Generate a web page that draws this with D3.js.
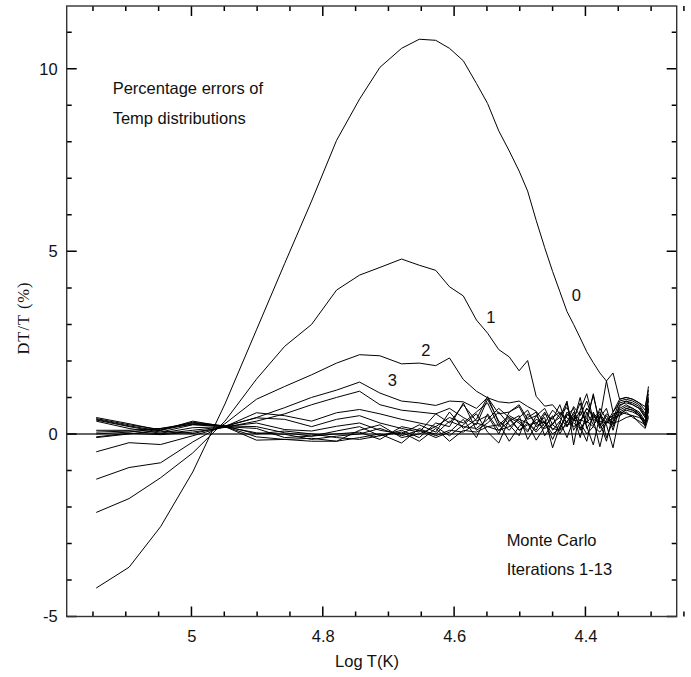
<!DOCTYPE html>
<html>
<head>
<meta charset="utf-8">
<script src="https://cdn.jsdelivr.net/npm/d3@7"></script>
<style>
    body { margin: 0; background: #fff; }
    text { font-family: "Liberation Sans", Arial, Helvetica, sans-serif; }
</style>
</head>
<body>
<div id="chart"></div>
<script>
// log T grid (bins get finer toward low temperature)
const logT = [5.145, 5.095, 5.047, 4.998, 4.949, 4.901, 4.858, 4.817, 4.779, 4.744,
    4.713, 4.680, 4.653, 4.628, 4.607, 4.586, 4.566, 4.549, 4.532, 4.516,
    4.501, 4.488, 4.475, 4.462, 4.450, 4.439, 4.428, 4.418, 4.408, 4.398,
    4.388, 4.378, 4.368, 4.358, 4.348, 4.338, 4.328, 4.318, 4.309, 4.304];

// DT/T (%) for iterations 0..13
const iter0 = [-4.22, -3.65, -2.54, -1.04, 0.82, 2.85, 4.67, 6.38, 8.04, 9.17,
    10.04, 10.56, 10.81, 10.78, 10.56, 10.22, 9.6, 9.05, 8.3, 7.75,
    7.2, 6.65, 5.85, 5.1, 4.45, 3.9, 3.35, 3.0, 2.63, 2.25,
    1.95, 1.67, 1.45, 1.67, 0.95, 1.0, 0.95, 0.85, 0.75, 1.2];
const iter1 = [-2.15, -1.77, -1.2, -0.52, 0.35, 1.5, 2.4, 3.0, 3.94, 4.35,
    4.56, 4.79, 4.62, 4.48, 4.03, 3.78, 3.12, 2.76, 2.31, 2.11,
    1.73, 2.01, 1.03, 0.76, 0.8, 0.55, 0.72, 0.35, 0.62, 0.3,
    0.55, 0.4, 1.45, 0.6, 0.95, 1.0, 0.95, 0.85, 0.65, 1.3];
const iter2 = [-1.24, -0.92, -0.79, -0.22, 0.28, 0.95, 1.3, 1.62, 1.94, 2.17,
    2.14, 1.92, 1.94, 1.87, 2.08, 1.49, 1.17, 0.99, 0.88, 0.85,
    0.9, 0.75, 0.62, 0.3, 0.65, 0.45, 0.2, 0.6, 0.35, 0.7,
    0.5, 0.25, 0.55, 0.4, 0.9, 0.95, 0.9, 0.8, 0.55, 1.1];
const iter3 = [-0.49, -0.24, -0.29, -0.05, 0.2, 0.45, 0.72, 1.0, 1.2, 1.42,
    1.12, 0.9, 0.85, 0.78, 0.9, 0.88, 0.7, 1.0, 0.55, 0.6,
    0.8, 0.4, 0.5, 0.2, 0.45, 0.6, 0.3, 0.75, 0.5, 0.9,
    0.35, 0.55, 0.3, 0.6, 0.85, 0.9, 0.85, 0.75, 0.5, 1.0];
const iter4 = [-0.08, 0.02, -0.02, 0.05, 0.18, 0.35, 0.55, 0.8, 1.0, 1.17,
    0.8, 0.65, 0.6, 0.55, 0.7, 0.45, 0.25, 0.95, 0.35, 0.1,
    0.45, 0.65, 0.2, 0.35, -0.15, 0.3, 0.85, 0.1, 0.4, 0.3,
    1.1, 0.2, 0.5, 0.25, 0.8, 0.85, 0.8, 0.7, 0.45, 0.9];
const iter5 = [0.05, 0.08, 0.0, 0.1, 0.2, 0.58, 0.5, 0.35, 0.58, 0.67,
    0.55, 0.4, 0.3, 0.2, 0.45, 0.3, 0.6, 0.85, 0.2, 0.45,
    0.3, 0.05, 0.5, 0.7, 0.25, 0.1, 0.55, 0.35, 1.0, 0.15,
    0.45, 0.6, -0.1, 0.35, 0.75, 0.9, 0.8, 0.7, 0.45, 0.95];
const iter6 = [0.42, 0.25, 0.12, 0.32, 0.22, 0.44, 0.4, 0.2, 0.4, 0.5,
    0.3, 0.15, 0.05, 0.55, 0.3, 0.8, 0.35, 0.5, 0.0, 0.6,
    0.75, 0.3, 0.1, 0.55, 0.4, 0.8, 0.2, 0.5, -0.1, 0.6,
    0.25, 0.45, 0.7, 0.1, 0.7, 0.8, 0.7, 0.6, 0.35, 0.8];
const iter7 = [0.38, 0.2, 0.05, 0.25, 0.2, 0.3, 0.12, 0.08, 0.21, 0.3,
    0.1, 0.0, 0.25, 0.05, 0.6, 0.15, 0.4, 1.02, 0.3, -0.2,
    0.2, 0.45, 0.6, -0.05, 0.3, 0.45, 0.9, -0.3, 0.65, 1.1,
    0.4, -0.35, 0.4, 0.5, 0.65, 0.75, 0.7, 0.55, 0.3, 0.75];
const iter8 = [0.45, 0.28, 0.1, 0.28, 0.22, 0.2, 0.03, -0.06, 0.08, 0.2,
    -0.05, 0.1, -0.1, 0.3, 0.2, 0.85, 0.1, 0.3, 0.6, 0.25,
    -0.05, 0.55, 0.3, 0.45, -0.38, 0.2, 0.5, 0.7, 0.1, 0.45,
    1.05, 0.3, -0.2, 0.55, 0.6, 0.7, 0.65, 0.5, 0.25, 0.7];
const iter9 = [0.35, 0.15, 0.02, 0.17, 0.2, 0.03, -0.01, -0.15, -0.06, 0.0,
    0.15, -0.05, 0.1, -0.1, 0.05, 0.4, -0.1, 0.55, 0.1, 0.35,
    0.5, -0.15, 0.25, 0.6, 0.1, 0.35, -0.1, 0.4, 0.85, 0.2,
    -0.3, 0.5, 0.25, -0.38, 0.5, 0.7, 0.65, 0.55, 0.2, 0.7];
const iter10 = [0.4, 0.22, 0.08, 0.01, 0.2, -0.08, -0.15, -0.2, -0.2, 0.1,
    0.25, -0.1, 0.0, 0.2, -0.05, 0.25, 0.55, 0.05, -0.25, 0.4,
    0.1, 0.3, -0.17, 0.2, 0.5, 0.0, 0.35, 0.55, 0.2, -0.2,
    0.6, 0.15, 0.35, 0.2, 0.6, 0.55, 0.5, 0.45, 0.3, 0.6];
const iter11 = [0.0, 0.05, 0.15, 0.3, 0.2, 0.15, -0.1, -0.06, 0.0, 0.05,
    -0.15, 0.2, 0.1, 0.0, 0.35, 0.2, 0.15, 0.4, 0.7, 0.45,
    0.1, 0.25, 0.3, 0.15, 0.25, 0.55, 0.45, 0.2, 0.3, 0.7,
    0.5, 0.35, 0.3, 0.45, 0.5, 0.6, 0.45, 0.35, 0.25, 0.5];
const iter12 = [-0.1, 0.0, 0.1, 0.35, 0.2, -0.17, -0.15, -0.12, -0.2, -0.1,
    0.0, -0.25, 0.15, -0.05, 0.1, 0.05, 0.3, 0.2, 0.25, 0.5,
    0.35, 0.1, 0.4, 0.3, 0.0, 0.15, 0.6, 0.4, 0.3, 0.0,
    0.2, 0.7, 0.4, 0.3, 0.35, 0.45, 0.5, 0.3, 0.15, 0.45];
const iter13 = [0.1, 0.1, 0.15, 0.26, 0.22, 0.0, 0.08, 0.0, -0.1, -0.15,
    -0.05, 0.05, -0.2, 0.15, -0.2, 0.1, 0.05, 0.2, 0.1, 0.2,
    0.4, 0.3, 0.05, 0.3, 0.15, 0.1, 0.25, 0.3, 0.15, 0.35,
    0.2, 0.05, 0.3, 0.35, 0.55, 0.65, 0.6, 0.5, 0.35, 0.65];

const iterations = [iter0, iter1, iter2, iter3, iter4, iter5, iter6,
    iter7, iter8, iter9, iter10, iter11, iter12, iter13];

// axis ticks
const xMajor = [5.0, 4.8, 4.6, 4.4];
const xMinor = [5.15, 5.1, 5.05, 4.95, 4.9, 4.85, 4.75, 4.7, 4.65,
    4.55, 4.5, 4.45, 4.35, 4.3, 4.25];
const yMajor = [-5, 0, 5, 10];
const yMinor = [-4, -3, -2, -1, 1, 2, 3, 4, 6, 7, 8, 9, 11];

// curve labels and notes [logT, DT/T, text]
const curveLabels = [[4.421, 3.63, "0"], [4.551, 3.03, "1"], [4.650, 2.14, "2"], [4.701, 1.30, "3"]];
const notes = [[5.120, 9.32, "Percentage errors of"], [5.120, 8.50, "Temp distributions"],
    [4.520, -3.06, "Monte Carlo"], [4.520, -3.86, "Iterations 1-13"]];

const width = 691;
const height = 677;
const plotLeft = 66.7, plotRight = 676.7, plotTop = 6, plotBottom = 616.5;
const fontSize = 16.5;
const majorLen = 10, minorLen = 5;

const svg = d3.select("#chart")
    .append("svg")
    .attr("width", width)
    .attr("height", height);

const x = d3.scaleLinear().domain([5.19, 4.261]).range([plotLeft, plotRight]);
const y = d3.scaleLinear().domain([-5, 11.72]).range([plotBottom, plotTop]);

// zero line
svg.append("line")
    .attr("x1", plotLeft).attr("x2", plotRight)
    .attr("y1", y(0)).attr("y2", y(0))
    .attr("stroke", "#666")
    .attr("stroke-width", 2);

// curves
const curve = d3.line()
    .x((d, i) => x(logT[i]))
    .y(d => y(d));

svg.append("g")
    .selectAll("path")
    .data(iterations)
    .enter()
    .append("path")
    .attr("d", d => curve(d))
    .attr("fill", "none")
    .attr("stroke", "#000")
    .attr("stroke-width", 1)
    .attr("stroke-linejoin", "miter");

// inward ticks on all four sides, one path
const tickPath = d3.path();
xMajor.concat(xMinor).forEach(v => {
    const len = xMajor.includes(v) ? majorLen : minorLen;
    tickPath.moveTo(x(v), plotBottom); tickPath.lineTo(x(v), plotBottom - len);
    tickPath.moveTo(x(v), plotTop); tickPath.lineTo(x(v), plotTop + len);
});
yMajor.concat(yMinor).forEach(v => {
    const len = yMajor.includes(v) ? majorLen : minorLen;
    tickPath.moveTo(plotLeft, y(v)); tickPath.lineTo(plotLeft + len, y(v));
    tickPath.moveTo(plotRight, y(v)); tickPath.lineTo(plotRight - len, y(v));
});
svg.append("path")
    .attr("d", tickPath.toString())
    .attr("fill", "none")
    .attr("stroke", "#000")
    .attr("stroke-width", 1.5);

// tick labels
const xAxis = svg.append("g")
    .attr("transform", `translate(0,${plotBottom})`)
    .call(d3.axisBottom(x).tickValues(xMajor).tickSize(0).tickPadding(14).tickFormat(d => String(d)));
xAxis.select(".domain").remove();

const yAxis = svg.append("g")
    .attr("transform", `translate(${plotLeft},0)`)
    .call(d3.axisLeft(y).tickValues(yMajor).tickSize(0).tickPadding(9).tickFormat(d => String(d)));
yAxis.select(".domain").remove();

svg.selectAll(".tick text")
    .attr("font-size", fontSize)
    .attr("font-family", "'Liberation Sans', Arial, sans-serif")
    .attr("fill", "#111");

// frame
svg.append("rect")
    .attr("x", plotLeft).attr("y", plotTop)
    .attr("width", plotRight - plotLeft).attr("height", plotBottom - plotTop)
    .attr("fill", "none")
    .attr("stroke", "#333")
    .attr("stroke-width", 1.4);

// curve labels
svg.selectAll(".curveLabel")
    .data(curveLabels)
    .enter()
    .append("text")
    .attr("x", d => x(d[0]))
    .attr("y", d => y(d[1]))
    .attr("font-size", fontSize)
    .attr("fill", "#111")
    .text(d => d[2]);

// notes
svg.selectAll(".note")
    .data(notes)
    .enter()
    .append("text")
    .attr("x", d => x(d[0]))
    .attr("y", d => y(d[1]))
    .attr("font-size", fontSize)
    .attr("fill", "#111")
    .text(d => d[2]);

// axis titles
svg.append("text")
    .attr("x", 367)
    .attr("y", 667)
    .attr("text-anchor", "middle")
    .attr("font-size", fontSize)
    .attr("fill", "#111")
    .text("Log T(K)");

svg.append("text")
    .attr("transform", "translate(29,318) rotate(-90)")
    .attr("text-anchor", "middle")
    .attr("font-size", 16.5)
    .attr("letter-spacing", 1)
    .style("font-family", "'Liberation Serif', 'Times New Roman', serif")
    .attr("fill", "#111")
    .text("DT/T (%)");
</script>
</body>
</html>
